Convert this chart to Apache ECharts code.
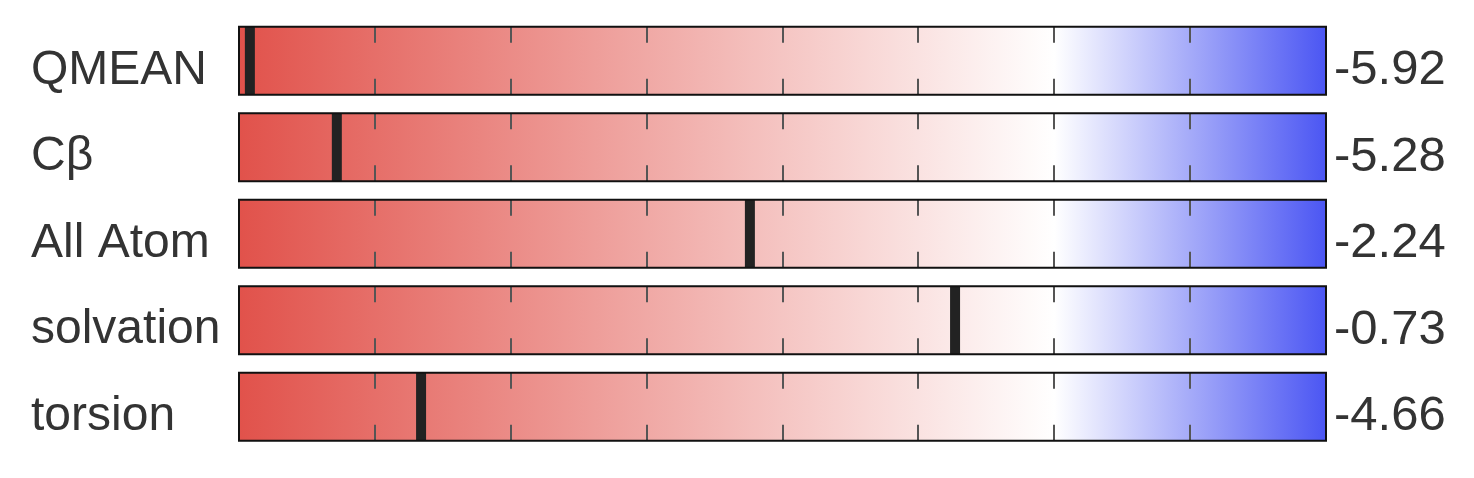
<!DOCTYPE html>
<html>
<head>
<meta charset="utf-8">
<script src="https://cdn.jsdelivr.net/npm/echarts@6/dist/echarts.min.js"></script>
<style>
html,body{margin:0;padding:0;background:#fff;}
#chart{width:1474px;height:478px;}
</style>
</head>
<body>
<div id="chart"></div>
<script>
const categories = ['QMEAN', 'Cβ', 'All Atom', 'solvation', 'torsion'];
const scores = [-5.92, -5.28, -2.24, -0.73, -4.66];
const scaleMin = -6;
const scaleMax = 2;
const scaleMid = 0;
const tickValues = [-5, -4, -3, -2, -1, 0, 1];

const chart = echarts.init(document.getElementById('chart'), null, {renderer: 'canvas'});
const midOffset = (scaleMid - scaleMin) / (scaleMax - scaleMin);

function renderItem(params, api) {
  const idx = api.value(1);
  const v = api.value(0);
  const l = api.coord([scaleMin, idx]);
  const r = api.coord([scaleMax, idx]);
  const bandH = api.size([0, 1])[1];
  const h = bandH * 0.786;
  const top = l[1] - h / 2;
  const children = [];
  children.push({
    type: 'rect',
    shape: {x: l[0], y: top, width: r[0] - l[0], height: h},
    style: {
      fill: new echarts.graphic.LinearGradient(0, 0, 1, 0, [
        {offset: 0, color: '#e1524b'},
        {offset: midOffset, color: '#ffffff'},
        {offset: 1, color: '#4b56f3'}
      ])
    }
  });
  tickValues.forEach(t => {
    const x = Math.round(api.coord([t, idx])[0]);
    children.push({type: 'line', shape: {x1: x, y1: top, x2: x, y2: top + 16}, style: {stroke: '#555', lineWidth: 2}});
    children.push({type: 'line', shape: {x1: x, y1: top + h - 16, x2: x, y2: top + h}, style: {stroke: '#555', lineWidth: 2}});
  });
  const mx = api.coord([v, idx])[0];
  children.push({type: 'rect', shape: {x: mx - 5, y: top, width: 10, height: h}, style: {fill: '#222'}});
  children.push({
    type: 'rect',
    shape: {x: l[0], y: top, width: r[0] - l[0], height: h},
    style: {fill: 'none', stroke: '#111', lineWidth: 2}
  });
  return {type: 'group', children: children};
}

const labelFont = 'Liberation Sans, Arial, Helvetica, sans-serif';
const option = {
  animation: false,
  backgroundColor: '#fff',
  grid: {left: 239, right: 148, top: 17.5, bottom: 28, containLabel: false},
  xAxis: {type: 'value', min: scaleMin, max: scaleMax, show: false},
  yAxis: [
    {
      type: 'category', inverse: true, data: categories,
      axisLine: {show: false}, axisTick: {show: false}, splitLine: {show: false},
      axisLabel: {align: 'left', verticalAlign: 'top', lineHeight: 20, margin: 208, fontSize: 48,
        color: '#333', fontFamily: labelFont}
    },
    {
      type: 'category', inverse: true, data: categories, position: 'right',
      axisLine: {show: false}, axisTick: {show: false}, splitLine: {show: false},
      axisLabel: {
        align: 'left', verticalAlign: 'top', lineHeight: 20, margin: 8, fontSize: 49,
        color: '#333', fontFamily: labelFont,
        formatter: (val, i) => scores[i].toFixed(2)
      }
    }
  ],
  series: [{
    type: 'custom',
    renderItem: renderItem,
    encode: {x: 0, y: 1},
    data: scores.map((v, i) => [v, i])
  }]
};
chart.setOption(option);
</script>
</body>
</html>
